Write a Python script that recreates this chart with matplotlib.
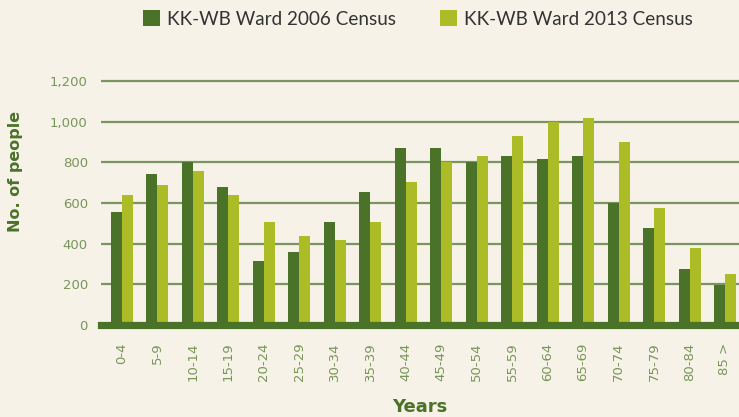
import matplotlib
matplotlib.use("Agg")
import matplotlib.pyplot as plt
import numpy as np

categories = ["0-4", "5-9", "10-14", "15-19", "20-24", "25-29", "30-34", "35-39",
              "40-44", "45-49", "50-54", "55-59", "60-64", "65-69", "70-74", "75-79",
              "80-84", "85 >"]
census_2006 = [558, 745, 802, 680, 312, 357, 508, 655, 870, 870, 802, 832, 817, 832,
               598, 475, 277, 198]
census_2013 = [641, 690, 760, 641, 508, 435, 420, 508, 705, 800, 832, 930, 1000, 1020,
               900, 577, 380, 252]
series_names = ["KK-WB Ward 2006 Census", "KK-WB Ward 2013 Census"]
yticks = [0, 200, 400, 600, 800, 1000, 1200]
ytick_labels = ["0", "200", "400", "600", "800", "1,000", "1,200"]

BG = "#f6f2e8"
DARK = "#4a7329"
LIGHT = "#abbc27"
TICKC = "#779658"
GRID = "#7b9560"

W, H = 739, 417
fig = plt.figure(figsize=(W / 100, H / 100), dpi=100, facecolor=BG)

ax_left, ax_right = 101, 739
y0_px, y1200_px = 324.7, 81.3
ytop = 1230
pxu = (y0_px - y1200_px) / 1200
top_px = y0_px - ytop * pxu
ax = fig.add_axes([ax_left / W, (H - y0_px) / H, (ax_right - ax_left) / W, (y0_px - top_px) / H])
ax.set_facecolor(BG)

x = np.arange(len(categories))
bw = 0.31
b1 = ax.bar(x - bw / 2, census_2006, bw, color=DARK, zorder=3, label=series_names[0])
b2 = ax.bar(x + bw / 2, census_2013, bw, color=LIGHT, zorder=3, label=series_names[1])

pitch = (725 - 122) / 17
ax.set_xlim((ax_left - 122) / pitch, (ax_right - 122) / pitch)
ax.set_ylim(0, ytop)

for v in yticks[1:]:
    ax.axhline(v, color=GRID, lw=1.6, zorder=1)
ax.axhline(0, color=DARK, lw=5.2, zorder=4, clip_on=False)

for s in ax.spines.values():
    s.set_visible(False)

ax.set_yticks(yticks)
ax.set_yticklabels(ytick_labels)
ax.set_xticks(x)
ax.set_xticklabels(categories, rotation=90)
ax.tick_params(axis="y", length=0, pad=9.5, labelsize=9.5, labelcolor=TICKC)
ax.tick_params(axis="x", length=0, pad=13, labelsize=9.5, labelcolor=TICKC)
for lbl in ax.get_yticklabels() + ax.get_xticklabels():
    lbl.set_fontfamily("DejaVu Sans")
for lbl in ax.get_xticklabels():
    lbl.set_va("top")

fig.text(16 / W, 1 - 171 / H, "No. of people", rotation=90, ha="center", va="center",
         fontsize=11.5, fontweight="bold", color=DARK, family="DejaVu Sans")
fig.text(419.5 / W, 1 - 407 / H, "Years", ha="center", va="center",
         fontsize=13, fontweight="bold", color=DARK, family="DejaVu Sans")

leg = fig.legend(handles=[b1, b2], loc="center left", bbox_to_anchor=(143 / W, 1 - 19 / H),
                 ncol=2, frameon=False, prop={"family": "Lato", "size": 13.6},
                 handlelength=0.9, handleheight=0.87, handletextpad=0.38,
                 columnspacing=2.3, borderpad=0, borderaxespad=0)
for t in leg.get_texts():
    t.set_color("#333333")

fig.savefig("out.png", dpi=100, facecolor=BG)
